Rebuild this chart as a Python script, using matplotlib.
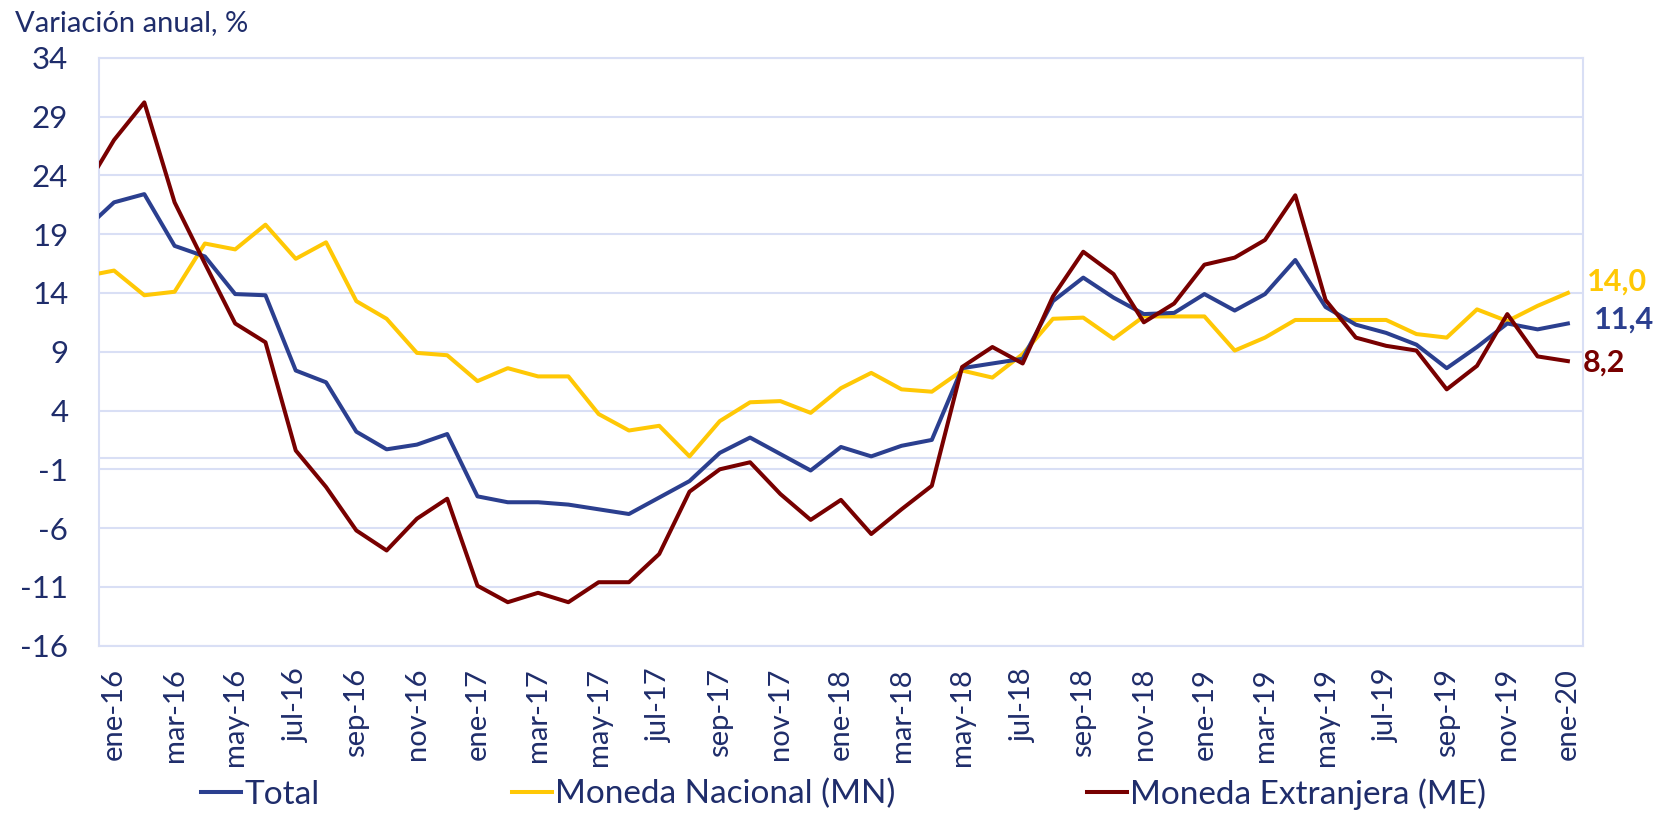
import matplotlib
matplotlib.use("Agg")
import matplotlib.pyplot as plt
import numpy as np

plt.rcParams['font.family'] = ['Lato', 'DejaVu Sans']

# Months: dic-15 (partly clipped at the left edge) through ene-20
months = ['dic-15',
          'ene-16', 'feb-16', 'mar-16', 'abr-16', 'may-16', 'jun-16', 'jul-16', 'ago-16', 'sep-16', 'oct-16', 'nov-16', 'dic-16',
          'ene-17', 'feb-17', 'mar-17', 'abr-17', 'may-17', 'jun-17', 'jul-17', 'ago-17', 'sep-17', 'oct-17', 'nov-17', 'dic-17',
          'ene-18', 'feb-18', 'mar-18', 'abr-18', 'may-18', 'jun-18', 'jul-18', 'ago-18', 'sep-18', 'oct-18', 'nov-18', 'dic-18',
          'ene-19', 'feb-19', 'mar-19', 'abr-19', 'may-19', 'jun-19', 'jul-19', 'ago-19', 'sep-19', 'oct-19', 'nov-19', 'dic-19',
          'ene-20']

total = [19.3, 21.7, 22.4, 18.0, 17.1, 13.9, 13.8, 7.4, 6.4, 2.2, 0.7, 1.1, 2.0,
         -3.3, -3.8, -3.8, -4.0, -4.4, -4.8, -3.4, -2.0, 0.4, 1.7, 0.3, -1.1,
         0.9, 0.1, 1.0, 1.5, 7.6, 8.0, 8.4, 13.3, 15.3, 13.6, 12.2, 12.3,
         13.9, 12.5, 13.9, 16.8, 12.8, 11.3, 10.6, 9.6, 7.6, 9.4, 11.4, 10.9,
         11.4]

mn = [15.4, 15.9, 13.8, 14.1, 18.2, 17.7, 19.8, 16.9, 18.3, 13.3, 11.8, 8.9, 8.7,
      6.5, 7.6, 6.9, 6.9, 3.7, 2.3, 2.7, 0.1, 3.1, 4.7, 4.8, 3.8,
      5.9, 7.2, 5.8, 5.6, 7.4, 6.8, 8.8, 11.8, 11.9, 10.1, 12.0, 12.0,
      12.0, 9.1, 10.2, 11.7, 11.7, 11.7, 11.7, 10.5, 10.2, 12.6, 11.6, 12.9,
      14.0]

me = [22.7, 27.0, 30.2, 21.7, 16.5, 11.4, 9.8, 0.6, -2.5, -6.2, -7.9, -5.2, -3.5,
      -10.9, -12.3, -11.5, -12.3, -10.6, -10.6, -8.2, -2.9, -1.0, -0.4, -3.1, -5.3,
      -3.6, -6.5, -4.4, -2.4, 7.7, 9.4, 8.0, 13.7, 17.5, 15.6, 11.5, 13.1,
      16.4, 17.0, 18.5, 22.3, 13.4, 10.2, 9.5, 9.1, 5.8, 7.8, 12.2, 8.6,
      8.2]

series_names = ['Total', 'Moneda Nacional (MN)', 'Moneda Extranjera (ME)']
end_labels = ['11,4', '14,0', '8,2']
yticks = [-16, -11, -6, -1, 4, 9, 14, 19, 24, 29, 34]

c_total = '#2B3F8F'
c_mn = '#FFC805'
c_me = '#780000'
c_text = '#1F2D6B'
c_grid = '#D9DFF5'

fig = plt.figure(figsize=(16.59, 8.15), dpi=100)
ax = fig.add_axes([0.0596, 0.2077, 0.8946, 0.7215])

x = np.arange(len(months)) - 1  # ene-16 at 0

for yt in yticks:
    ax.axhline(yt, color=c_grid, lw=1.5, zorder=0)
ax.axhline(0, color=c_grid, lw=1.5, zorder=0)

lw = 2.9
l1, = ax.plot(x, total, color=c_total, lw=lw, label=series_names[0], zorder=4)
l2, = ax.plot(x, mn, color=c_mn, lw=lw, label=series_names[1], zorder=3)
l3, = ax.plot(x, me, color=c_me, lw=lw, label=series_names[2], zorder=5)

ax.set_xlim(-0.5, len(months) - 1.5)
ax.set_ylim(-16, 34)
ax.set_yticks(yticks)
ax.set_yticklabels([str(v) for v in yticks], fontsize=22.5, color=c_text)

tick_pos = x[1::2]
ax.set_xticks(tick_pos)
ax.set_xticklabels([months[i + 1] for i in tick_pos], rotation=90, fontsize=21, color=c_text)
ax.tick_params(axis='both', length=0)
ax.tick_params(axis='y', pad=22)
ax.tick_params(axis='x', pad=16)

for sp in ax.spines.values():
    sp.set_color(c_grid)
    sp.set_linewidth(1.5)

# End-value labels
ax.text(48.63, 15.0, end_labels[1], color=c_mn, fontsize=22, fontweight='bold',
        ha='left', va='center', clip_on=False)
ax.text(48.86, 11.7, end_labels[0], color=c_total, fontsize=22, fontweight='bold',
        ha='left', va='center', clip_on=False)
ax.text(48.5, 8.1, end_labels[2], color=c_me, fontsize=22, fontweight='bold',
        ha='left', va='center', clip_on=False)

fig.text(0.009, 0.972, 'Variación anual, %', fontsize=21, color=c_text, ha='left', va='center')

leg = fig.legend(handles=[l1, l2, l3], loc='center', bbox_to_anchor=(0.5087, 0.026),
                 ncol=3, frameon=False, fontsize=24, handlelength=1.2, handletextpad=0.1,
                 columnspacing=5.75, borderpad=0.0)
for t in leg.get_texts():
    t.set_color(c_text)

fig.savefig('out.png', dpi=100)
